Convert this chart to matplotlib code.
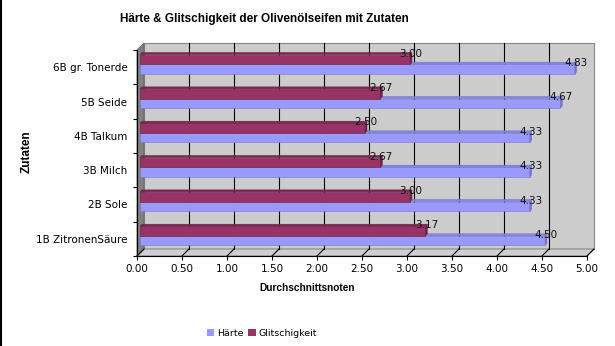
import matplotlib
matplotlib.use("Agg")
import matplotlib.pyplot as plt
from matplotlib.patches import Polygon, Patch
from matplotlib.lines import Line2D

categories = ["1B ZitronenSäure", "2B Sole", "3B Milch", "4B Talkum", "5B Seide", "6B gr. Tonerde"]
haerte = [4.50, 4.33, 4.33, 4.33, 4.67, 4.83]
glitsch = [3.17, 3.00, 2.67, 2.50, 2.67, 3.00]
xticks = [0, 0.5, 1, 1.5, 2, 2.5, 3, 3.5, 4, 4.5, 5]

c_haerte = "#9999FF"
c_glitsch = "#993366"

plt.rcParams["font.family"] = ["DejaVu Sans"]

fig = plt.figure(figsize=(6.15, 3.46), dpi=100)
W, H = 615, 346
left, right, top, bottom = 137, 587, 50, 256
ax = fig.add_axes([left / W, 1 - bottom / H, (right - left) / W, (bottom - top) / H])
ax.set_xlim(0, 5)
ax.set_ylim(-0.5, 5.5)
ax.patch.set_visible(False)

# pixel -> data units
px = 5 / (right - left)
py = 6 / (bottom - top)
D = 7  # wall depth in px
ddx, ddy = D * px, D * py

# back wall
wall = Polygon([(ddx, -0.5 + ddy), (5 + ddx, -0.5 + ddy), (5 + ddx, 5.5 + ddy), (ddx, 5.5 + ddy)],
               closed=True, facecolor="#CCCCCC", edgecolor="#888888", lw=0.8, zorder=0, clip_on=False)
ax.add_patch(wall)
# floor
floor = Polygon([(0, -0.5), (5, -0.5), (5 + ddx, -0.5 + ddy), (ddx, -0.5 + ddy)],
                closed=True, facecolor="#CFCFCF", edgecolor="#888888", lw=0.8, zorder=0.5, clip_on=False)
ax.add_patch(floor)
# left wall
lwall = Polygon([(0, -0.5), (ddx, -0.5 + ddy), (ddx, 5.5 + ddy), (0, 5.5)],
                closed=True, facecolor="#808080", edgecolor="#606060", lw=0.6, zorder=0.6, clip_on=False)
ax.add_patch(lwall)

for x in xticks[1:-1]:
    ax.plot([x + ddx, x + ddx], [-0.5 + ddy, 5.5 + ddy], color="black", lw=0.8, zorder=1, clip_on=False)
for x in xticks:
    ax.plot([x, x + ddx], [-0.5, -0.5 + ddy], color="black", lw=0.8, zorder=1, clip_on=False)

# bars with small 3D effect
sx, sy = 3 * px, 3 * py
d = 2
bdx, bdy = d * px, d * py
h = 0.28


def bar3d(y0, val, color, topcol, endcol):
    x0 = sx
    x1 = val + sx
    yb = y0 + sy
    yt = y0 + h + sy
    ax.add_patch(Polygon([(x0, yb), (x1, yb), (x1, yt), (x0, yt)], closed=True,
                         facecolor=color, edgecolor=endcol, lw=0.4, zorder=3, clip_on=False))
    ax.add_patch(Polygon([(x0, yt), (x1, yt), (x1 + bdx, yt + bdy), (x0 + bdx, yt + bdy)], closed=True,
                         facecolor=topcol, edgecolor=endcol, lw=0.4, zorder=3, clip_on=False))
    ax.add_patch(Polygon([(x1, yb), (x1 + bdx, yb + bdy), (x1 + bdx, yt + bdy), (x1, yt)], closed=True,
                         facecolor=endcol, edgecolor=endcol, lw=0.4, zorder=3, clip_on=False))
    ax.text(x1 + bdx / 2, yt + bdy / 2, f"{val:.2f}", fontsize=7.5, ha="center", va="center",
            zorder=5, color="#111111")


for i in range(len(categories)):
    bar3d(i - h, haerte[i], c_haerte, "#8585E6", "#7777CC")
    bar3d(i, glitsch[i], c_glitsch, "#7A2852", "#6E2248")

# axes styling
for s in ["top", "right"]:
    ax.spines[s].set_visible(False)
ax.spines["left"].set_color("black")
ax.spines["bottom"].set_color("black")
ax.spines["left"].set_zorder(4)
ax.spines["bottom"].set_zorder(4)

ax.set_xticks(xticks)
ax.set_xticklabels([f"{x:.2f}" for x in xticks], fontsize=7.5)
ax.tick_params(axis="x", length=3, width=0.8, pad=3)
ax.set_yticks(range(len(categories)))
ax.set_yticklabels(categories, fontsize=7.5)
ax.set_yticks([i - 0.5 for i in range(len(categories) + 1)], minor=True)
ax.tick_params(axis="y", which="major", length=0, pad=7)
ax.tick_params(axis="y", which="minor", length=3, width=0.8)

bold = ["Liberation Sans", "DejaVu Sans"]
fig.text(264 / W, 1 - 19 / H, "Härte & Glitschigkeit der Olivenölseifen mit Zutaten",
         fontsize=8.5, fontweight="bold", ha="center", va="center", family=bold)
fig.text(307 / W, 1 - 288 / H, "Durchschnittsnoten", fontsize=7.3, fontweight="bold",
         ha="center", va="center", family=bold)
fig.text(27 / W, 1 - 152 / H, "Zutaten", fontsize=8.5, fontweight="bold", rotation=90,
         ha="center", va="center", family=bold)

handles = [Patch(facecolor=c_haerte, edgecolor="none", label="Härte"),
           Patch(facecolor=c_glitsch, edgecolor="none", label="Glitschigkeit")]
fig.legend(handles=handles, loc="center", bbox_to_anchor=(262 / W, 1 - 333 / H), ncol=2,
           frameon=False, fontsize=6.8, handlelength=0.8, handleheight=0.8,
           handletextpad=0.3, columnspacing=0.5)

fig.add_artist(Line2D([1 / W, 1 / W], [0, 1], color="black", lw=1.5))

fig.savefig("out.png", dpi=100)
